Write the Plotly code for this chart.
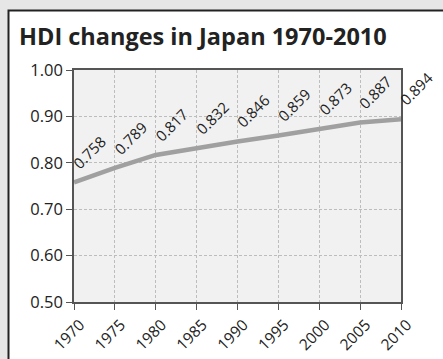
import plotly.graph_objects as go

# HDI values for Japan, every five years
years = [1970, 1975, 1980, 1985, 1990, 1995, 2000, 2005, 2010]
hdi = [0.758, 0.789, 0.817, 0.832, 0.846, 0.859, 0.873, 0.887, 0.894]
y_ticks = [0.50, 0.60, 0.70, 0.80, 0.90, 1.00]

W, H = 443, 359
L, R, T, B = 74, 42, 70, 57
PW, PH = W - L - R, H - T - B


def px_x(p):
    return (p - L) / PW


def px_y(p):
    return (H - B - p) / PH


FONT = "Open Sans"
TXT = "#222222"

fig = go.Figure()
fig.add_trace(go.Scatter(
    x=years, y=hdi, mode="lines",
    line=dict(color="#a0a0a0", width=4.5),
    hoverinfo="skip", showlegend=False,
))

# rotated value labels
for yr, v in zip(years, hdi):
    fig.add_annotation(
        x=yr, y=v, xref="x", yref="y",
        text=f"{v:.3f}", showarrow=False, textangle=-45,
        xanchor="left", yanchor="bottom", xshift=-8, yshift=7,
        font=dict(family=FONT, size=15, color=TXT),
    )

shapes = [
    # grey margin strips outside the frame
    dict(type="rect", xref="paper", yref="paper", x0=px_x(-5), x1=px_x(8),
         y0=px_y(-5), y1=px_y(H + 5), fillcolor="#e6e6e6", line=dict(width=0), layer="below"),
    dict(type="rect", xref="paper", yref="paper", x0=px_x(-5), x1=px_x(W + 5),
         y0=px_y(10), y1=px_y(-5), fillcolor="#e6e6e6", line=dict(width=0), layer="below"),
    # outer frame
    dict(type="rect", xref="paper", yref="paper", x0=px_x(8.5), x1=px_x(W + 10),
         y0=px_y(H + 10), y1=px_y(10.5), fillcolor="rgba(0,0,0,0)",
         line=dict(color="#222222", width=2)),
]

fig.update_layout(
    width=W, height=H,
    margin=dict(l=L, r=R, t=T, b=B),
    paper_bgcolor="#ffffff",
    plot_bgcolor="#f1f1f1",
    shapes=shapes,
    title=dict(text="<b>HDI changes in Japan 1970-2010</b>",
               x=19 / W, xanchor="left", xref="container",
               y=1 - 37 / H, yanchor="middle", yref="container",
               font=dict(family=FONT, size=23.5, color=TXT)),
    xaxis=dict(
        range=[1970, 2010], tickvals=years, ticktext=[str(y) for y in years],
        tickangle=-45, tickfont=dict(family=FONT, size=15.5, color=TXT),
        ticklabelshift=6,
        showgrid=True, gridcolor="#bdbdbd", griddash="3px,2px", gridwidth=1,
        showline=True, linecolor="#555555", linewidth=1.5, mirror=True,
        ticks="outside", ticklen=6, tickcolor="#555555", zeroline=False,
        automargin=False,
    ),
    yaxis=dict(
        range=[0.5, 1.0], tickvals=y_ticks, ticktext=[f"{v:.2f}" for v in y_ticks],
        tickfont=dict(family=FONT, size=16.5, color=TXT),
        showgrid=True, gridcolor="#bdbdbd", griddash="3px,2px", gridwidth=1,
        showline=True, linecolor="#555555", linewidth=1.5, mirror=True,
        ticks="outside", ticklen=6, tickcolor="#555555", zeroline=False,
        automargin=False,
    ),
)

fig.write_html("out.html")
